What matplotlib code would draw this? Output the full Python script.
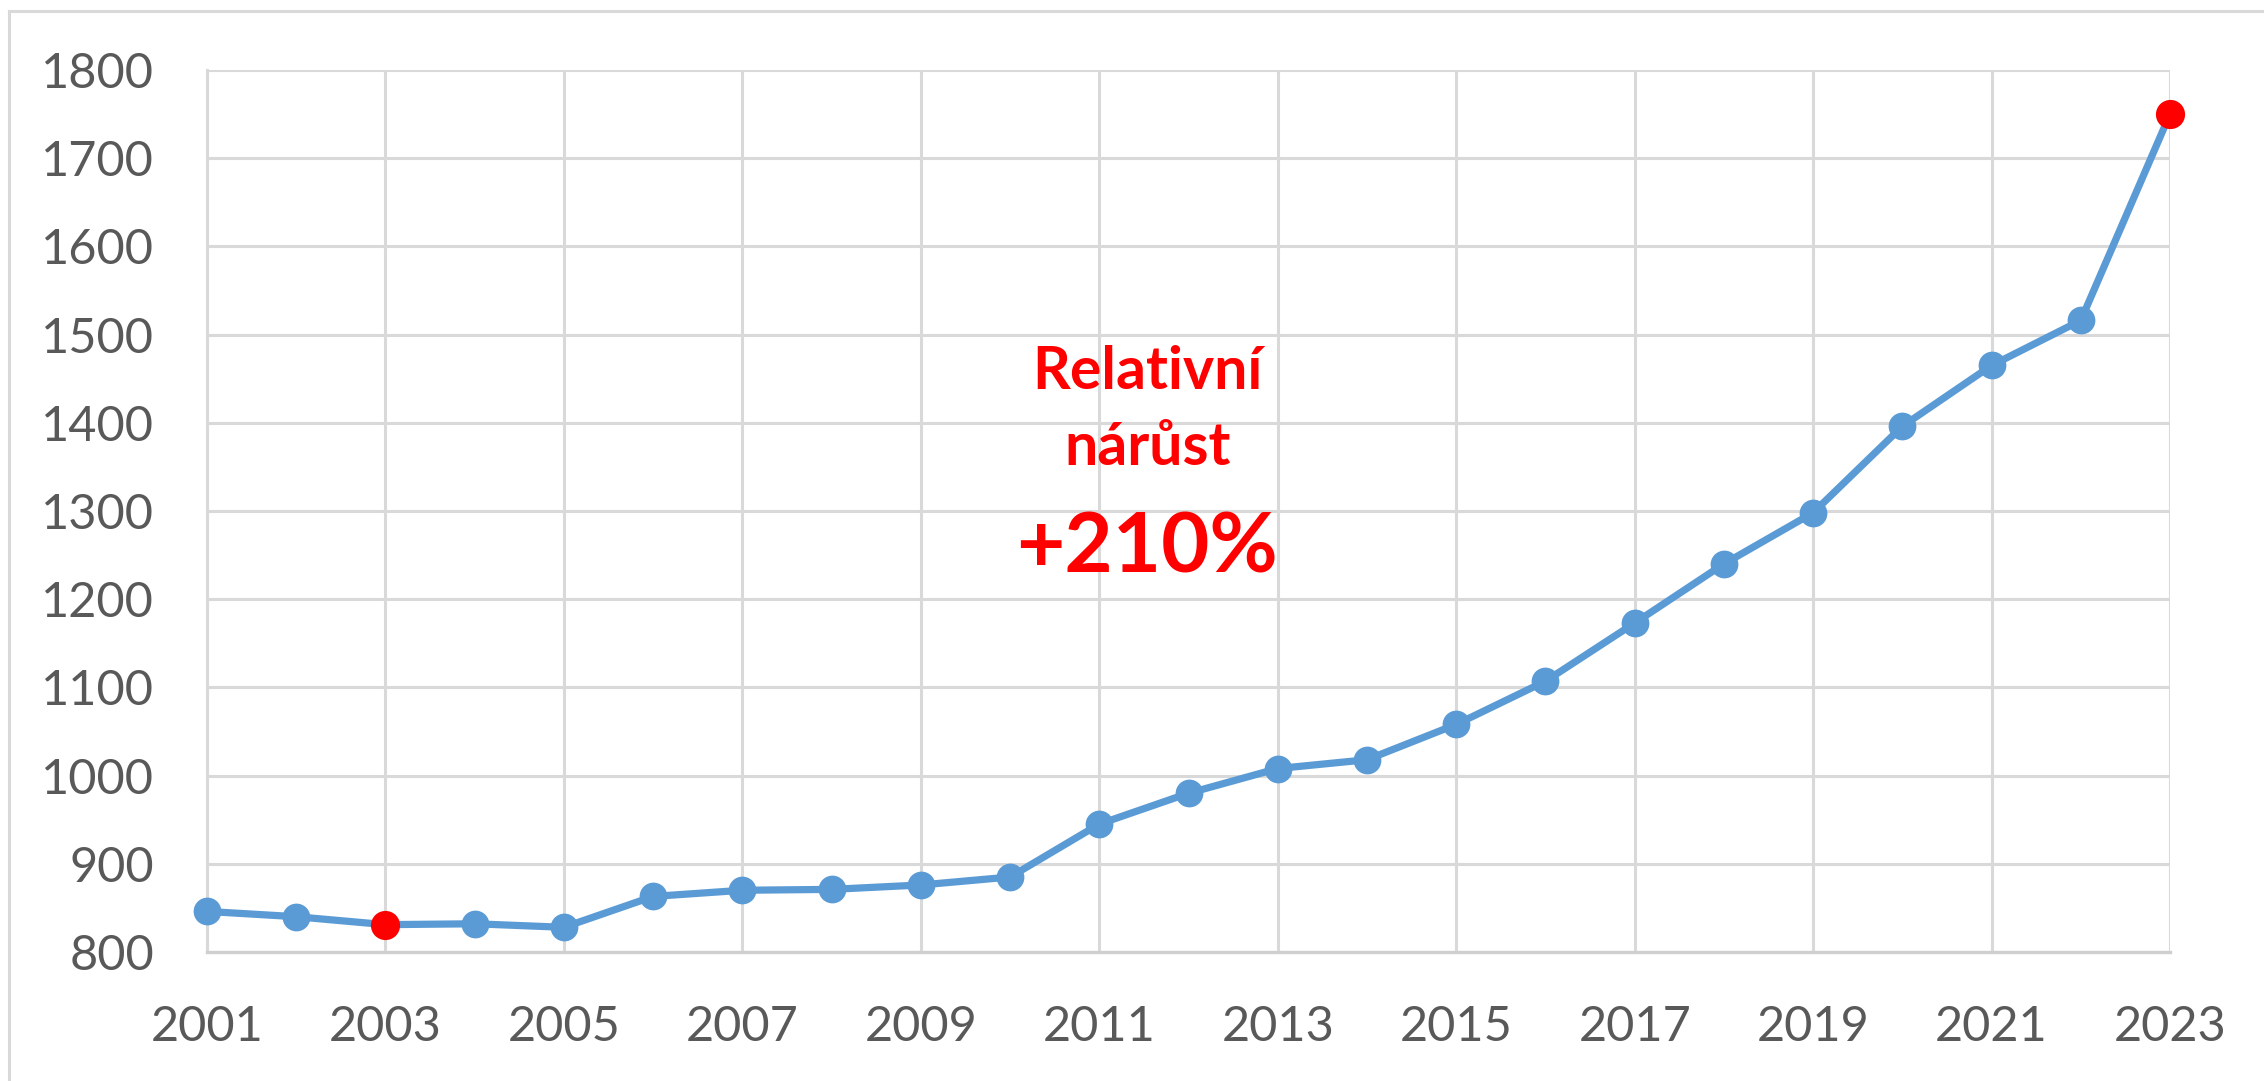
import matplotlib
matplotlib.use("Agg")
import matplotlib.pyplot as plt
from matplotlib.lines import Line2D

years = list(range(2001, 2024))
values = [846, 840, 831, 832, 828, 863, 870, 871, 876, 885, 945, 980,
          1008, 1018, 1058, 1107, 1173, 1240, 1298, 1396, 1465, 1516, 1750]
highlight_years = [2003, 2023]
x_tick_labels = [str(y) for y in range(2001, 2024, 2)]
y_ticks = list(range(800, 1801, 100))
annotation_lines = ["Relativní", "nárůst", "+210%"]

plt.rcParams['font.family'] = ['Lato', 'DejaVu Sans']

fig = plt.figure(figsize=(22.64, 10.81), dpi=100)
ax = fig.add_axes([207/2264, 1-952/1081, (2170-207)/2264, (952-70)/1081])

grid_c = '#D9D9D9'
ax.plot(years, values, color='#5B9BD5', lw=5.2, marker='o', ms=20,
        markeredgewidth=0, zorder=3, clip_on=False)
hv = [values[years.index(y)] for y in highlight_years]
ax.plot(highlight_years, hv, ls='none', marker='o', ms=21, color='#FF0000',
        markeredgewidth=0, zorder=4, clip_on=False)

ax.set_xlim(2001, 2023)
ax.set_ylim(800, 1800)
ax.set_xticks(range(2001, 2024, 2))
ax.set_xticklabels(x_tick_labels)
ax.set_yticks(y_ticks)
ax.grid(True, color=grid_c, lw=2.2, zorder=0)
ax.set_axisbelow(True)
for s in ['top', 'right']:
    ax.spines[s].set_visible(False)
ax.spines['left'].set_color(grid_c)
ax.spines['left'].set_linewidth(2.2)
ax.spines['bottom'].set_color('#CFCFCF')
ax.spines['bottom'].set_linewidth(2.4)
ax.tick_params(axis='both', length=0, labelsize=35, colors='#595959')
ax.tick_params(axis='y', pad=38)
ax.tick_params(axis='x', pad=38)

red = '#FF0000'
ax.text(0.479, 0.638, annotation_lines[0], transform=ax.transAxes, ha='center',
        va='baseline', fontsize=42.5, fontweight='bold', color=red, zorder=5)
ax.text(0.479, 0.552, annotation_lines[1], transform=ax.transAxes, ha='center',
        va='baseline', fontsize=42.5, fontweight='bold', color=red, zorder=5)
ax.text(0.479, 0.430, annotation_lines[2], transform=ax.transAxes, ha='center',
        va='baseline', fontsize=60, fontweight='bold', color=red, zorder=5)

# outer chart frame (left and top edges)
fig.add_artist(Line2D([9/2264, 9/2264], [0, 1-11/1081], color=grid_c, lw=2.2,
                      transform=fig.transFigure))
fig.add_artist(Line2D([9/2264, 1], [1-11/1081, 1-11/1081], color=grid_c, lw=2.2,
                      transform=fig.transFigure))

fig.savefig('out.png', dpi=100, facecolor='white')
